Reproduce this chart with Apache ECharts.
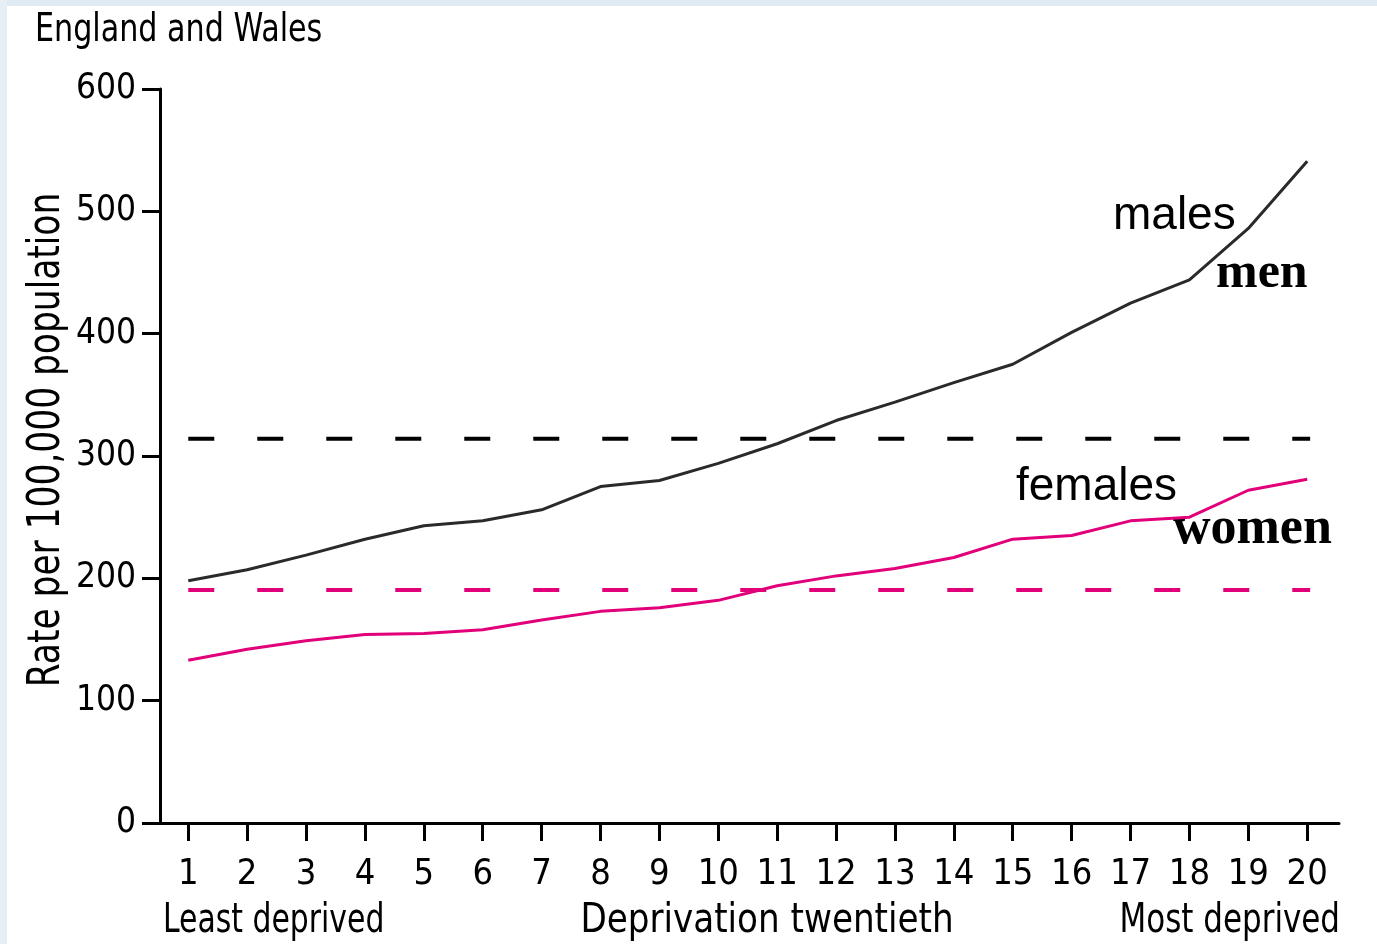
<!DOCTYPE html>
<html>
<head>
<meta charset="utf-8">
<script src="https://cdn.jsdelivr.net/npm/echarts@6/dist/echarts.min.js"></script>
<style>
    html, body {margin: 0; padding: 0; background: #fff;}
    #chart {width: 1377px; height: 944px;}
</style>
</head>
<body>
<div id="chart"></div>
<script>
// deprivation twentieths 1..20
var twentieths = [1, 2, 3, 4, 5, 6, 7, 8, 9, 10, 11, 12, 13, 14, 15, 16, 17, 18, 19, 20];
// rate per 100,000 population
var menRate = [198, 207, 219, 232, 243, 247, 256, 275, 280, 294, 310, 329, 344, 360, 375, 401, 425, 444, 486, 541];
var womenRate = [133, 142, 149, 154, 155, 158, 166, 173, 176, 182, 194, 202, 208, 217, 232, 235, 247, 250, 272, 281];
// England and Wales averages (dashed lines)
var menAverage = 314;
var womenAverage = 190.5;
var yTicks = [0, 100, 200, 300, 400, 500, 600];

var narrow = "'DejaVu Sans Condensed', 'DejaVu Sans', sans-serif";
var sans = "'Liberation Sans', Arial, sans-serif";
var serif = "'Liberation Serif', 'Times New Roman', serif";

function pairs(xs, ys) {
    var out = [];
    for (var i = 0; i < xs.length; i++) {
        out.push([xs[i], ys[i]]);
    }
    return out;
}

var myChart = echarts.init(document.getElementById('chart'));
var option = {
    animation: false,
    backgroundColor: '#fff',
    grid: {left: 160, right: 38, top: 89, bottom: 121},
    xAxis: {
        type: 'value', min: 0.52, max: 20.54,
        axisLine: {show: true, lineStyle: {color: '#000', width: 3}},
        axisTick: {show: true, length: 18, lineStyle: {color: '#000', width: 3}, customValues: twentieths},
        axisLabel: {color: '#000', fontSize: 36, fontFamily: narrow, margin: 34, customValues: twentieths},
        splitLine: {show: false}
    },
    yAxis: {
        type: 'value', min: yTicks[0], max: yTicks[yTicks.length - 1], interval: 100,
        axisLine: {show: true, lineStyle: {color: '#000', width: 3}},
        axisTick: {show: true, length: 18, lineStyle: {color: '#000', width: 3}},
        axisLabel: {color: '#000', fontSize: 35, fontFamily: narrow, margin: 24},
        splitLine: {show: false}
    },
    series: [
        {
            name: 'men average', type: 'line', symbol: 'none', silent: true,
            data: [[twentieths[0], menAverage], [20.05, menAverage]],
            lineStyle: {color: '#000', width: 4, type: [26, 43]}
        },
        {
            name: 'women average', type: 'line', symbol: 'none', silent: true,
            data: [[twentieths[0], womenAverage], [20.05, womenAverage]],
            lineStyle: {color: '#e2007a', width: 4, type: [26, 43]}
        },
        {
            name: 'men', type: 'line', symbol: 'none',
            data: pairs(twentieths, menRate),
            lineStyle: {color: '#2a2a2a', width: 3}
        },
        {
            name: 'women', type: 'line', symbol: 'none',
            data: pairs(twentieths, womenRate),
            lineStyle: {color: '#e2007a', width: 3}
        }
    ],
    graphic: [
        // light blue frame at the top and left edge
        {type: 'rect', left: 0, top: 0, shape: {width: 1377, height: 6}, style: {fill: '#dfeaf3'}},
        {type: 'rect', left: 0, top: 0, shape: {width: 7, height: 944}, style: {fill: '#e6eff6'}},
        {type: 'text', x: 35, y: 31, scaleX: 0.86, style: {text: 'England and Wales', fontSize: 39, fontFamily: narrow, fill: '#000', verticalAlign: 'middle'}},
        {type: 'text', x: 48, y: 440, rotation: Math.PI / 2, scaleX: 0.87,
            style: {text: 'Rate per 100,000 population', fontSize: 44, fontFamily: narrow, fill: '#000', align: 'center', verticalAlign: 'middle'}},
        {type: 'text', x: 163, y: 922, scaleX: 0.83, style: {text: 'Least deprived', fontSize: 40, fontFamily: narrow, fill: '#000', verticalAlign: 'middle'}},
        {type: 'text', x: 767, y: 922, scaleX: 0.95, style: {text: 'Deprivation twentieth', fontSize: 40, fontFamily: narrow, fill: '#000', align: 'center', verticalAlign: 'middle'}},
        {type: 'text', x: 1340, y: 922, scaleX: 0.86, style: {text: 'Most deprived', fontSize: 40, fontFamily: narrow, fill: '#000', align: 'right', verticalAlign: 'middle'}},
        {type: 'text', x: 1113, y: 193, style: {text: 'males', fontSize: 46, fontFamily: sans, fill: '#000'}},
        {type: 'text', x: 1216, y: 249, style: {text: 'men', fontSize: 50, fontWeight: 'bold', fontFamily: serif, fill: '#000'}},
        {type: 'text', x: 1016, y: 464, style: {text: 'females', fontSize: 46, fontFamily: sans, fill: '#000'}},
        {type: 'text', x: 1173, y: 504, style: {text: 'women', fontSize: 52, fontWeight: 'bold', fontFamily: serif, fill: '#000'}}
    ]
};
myChart.setOption(option);
</script>
</body>
</html>
